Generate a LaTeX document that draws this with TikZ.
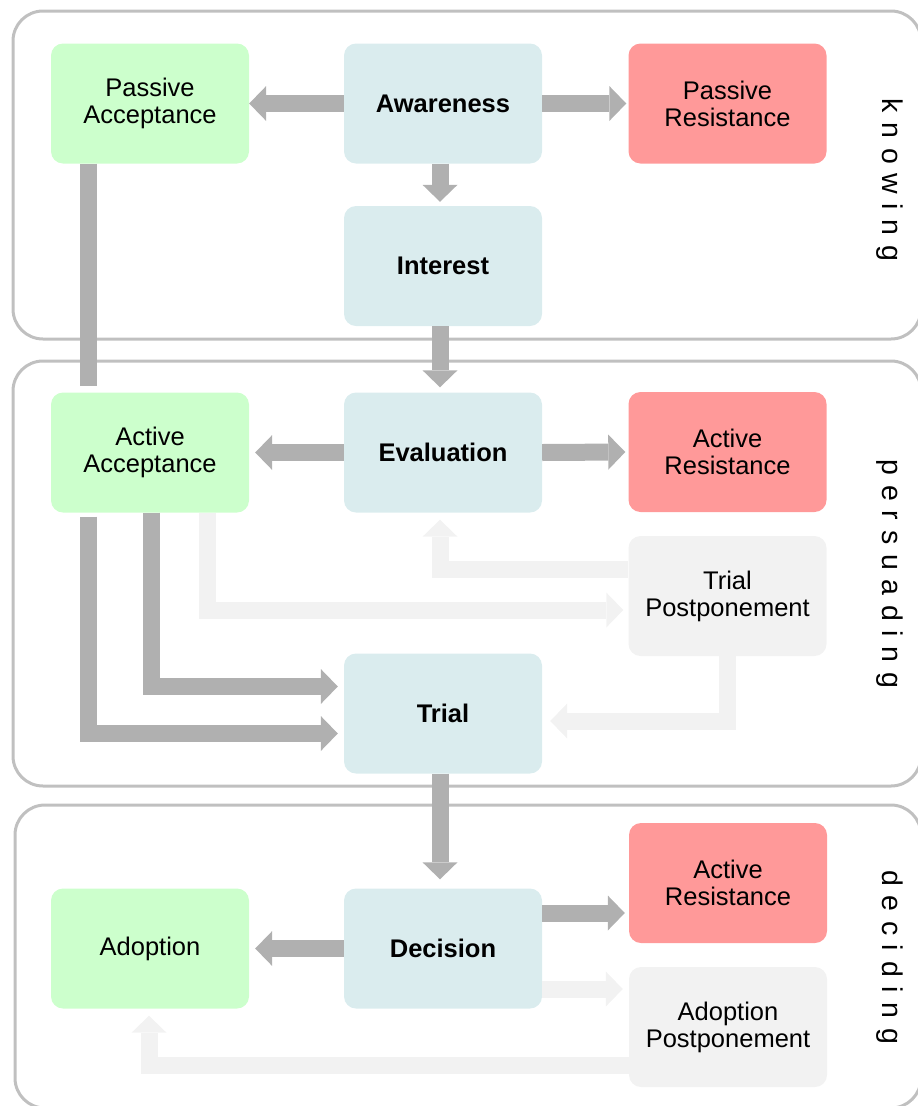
\documentclass[tikz,border=0pt]{standalone}
\usepackage{fontspec}
\setmainfont{Liberation Sans}
\newfontfamily\spacedfont[LetterSpace=34]{Liberation Sans}
\usetikzlibrary{arrows.meta}

\definecolor{acceptfill}{HTML}{CCFFCC}
\definecolor{stagefill}{HTML}{DAECEE}
\definecolor{resistfill}{HTML}{FF9999}
\definecolor{pendfill}{HTML}{F2F2F2}
\definecolor{flowdark}{HTML}{B0B0B0}
\definecolor{flowlight}{HTML}{F2F2F2}
\definecolor{framegray}{HTML}{C0C0C0}

\begin{document}
\begin{tikzpicture}[x=1pt,y=-1pt,
  box/.style={rounded corners=12pt, minimum width=198pt, minimum height=120pt,
    inner sep=0pt, align=center, font=\fontsize{25.5}{27}\selectfont},
  stage/.style={box, fill=stagefill, font=\fontsize{25.5}{27}\selectfont\bfseries},
  accept/.style={box, fill=acceptfill},
  resist/.style={box, fill=resistfill},
  pending/.style={box, fill=pendfill},
  phase/.style={draw=framegray, line width=3pt, rounded corners=30pt},
  phaselabel/.style={rotate=-90, inner sep=0pt,
    font=\spacedfont\fontsize{28.5}{28.5}\selectfont},
  flow/.style={draw=flowdark, line width=17pt, line join=miter,
    arrows={-{Triangle[width=35pt,length=17pt,line width=0pt]}}},
  weakflow/.style={flow, draw=flowlight},
  link/.style={draw=flowdark, line width=17pt}
]
\useasboundingbox (0,0) rectangle (918,1106);

% phase frames
\draw[phase] (13,11) rectangle (921,339);
\draw[phase] (13,361) rectangle (921,786);
\draw[phase] (15,805) rectangle (921,1108);

% knowing
\node[accept] (pa) at (150,103.5) {Passive\\Acceptance};
\node[stage]  (aw) at (443,103.5) {Awareness};
\node[resist] (pr) at (727.5,103.5) {Passive\\Resistance};
\node[stage]  (in) at (443,266) {Interest};

% persuading
\node[accept]  (aa)  at (150,452.5) {Active\\Acceptance};
\node[stage]   (ev)  at (443,452.5) {Evaluation};
\node[resist]  (ar1) at (727.5,452) {Active\\Resistance};
\node[pending] (tp)  at (727.5,596) {Trial\\Postponement};
\node[stage]   (tr)  at (443,713.5) {Trial};

% deciding
\node[accept]  (ad)  at (150,948.5) {Adoption};
\node[stage]   (de)  at (443,948.5) {Decision};
\node[resist]  (ar2) at (728,883) {Active\\Resistance};
\node[pending] (ap)  at (728,1027) {Adoption\\Postponement};

% phase names
\node[phaselabel] (kn) at (890,180) {knowing};
\node[phaselabel] (ps) at (890,574) {persuading};
\node[phaselabel] (dc) at (890,957) {deciding};

% light (postponed) flows
\draw[weakflow] ([xshift=57pt]aa.south) |- ([xshift=-5pt,yshift=-14pt]tp.west);
\draw[weakflow] ([yshift=27pt]tp.west) -| ([xshift=-3pt,yshift=-7pt]ev.south);
\draw[weakflow] (tp.south) |- ([xshift=8pt,yshift=-7.5pt]tr.east);
\draw[weakflow] ([yshift=-40.5pt]de.east) -- ([xshift=-6pt,yshift=38pt]ap.west);
\draw[weakflow] ([yshift=-38pt]ap.west) -| ([xshift=-1pt,yshift=-7pt]ad.south);

% main flows
\draw[flow] (aw.west) -- (pa.east);
\draw[flow] (aw.east) -- ([xshift=-2pt]pr.west);
\draw[flow] ([xshift=-3pt]aw.south) -- ([xshift=-3pt,yshift=4pt]in.north);
\draw[flow] ([xshift=-3pt]in.south) -- ([xshift=-3pt,yshift=5pt]ev.north);
\draw[link] ([xshift=-61.5pt]pa.south) -- ([xshift=-61.5pt,yshift=6pt]aa.north);
\draw[flow] (ev.west) -- ([xshift=6pt]aa.east);
\draw[flow] (ev.east) -- ([xshift=-3pt]ar1.west);
\draw[flow] ([xshift=1pt]aa.south) |- ([xshift=-6pt,yshift=27pt]tr.west);
\draw[flow] ([xshift=-61.5pt,yshift=-4pt]aa.south) |- ([xshift=-6pt,yshift=-20pt]tr.west);
\draw[flow] ([xshift=-3pt]tr.south) -- ([xshift=-3pt,yshift=9pt]de.north);
\draw[flow] (de.west) -- ([xshift=6pt]ad.east);
\draw[flow] ([yshift=35.5pt]de.east) -- ([xshift=-4pt,yshift=-30pt]ar2.west);
\end{tikzpicture}
\end{document}
